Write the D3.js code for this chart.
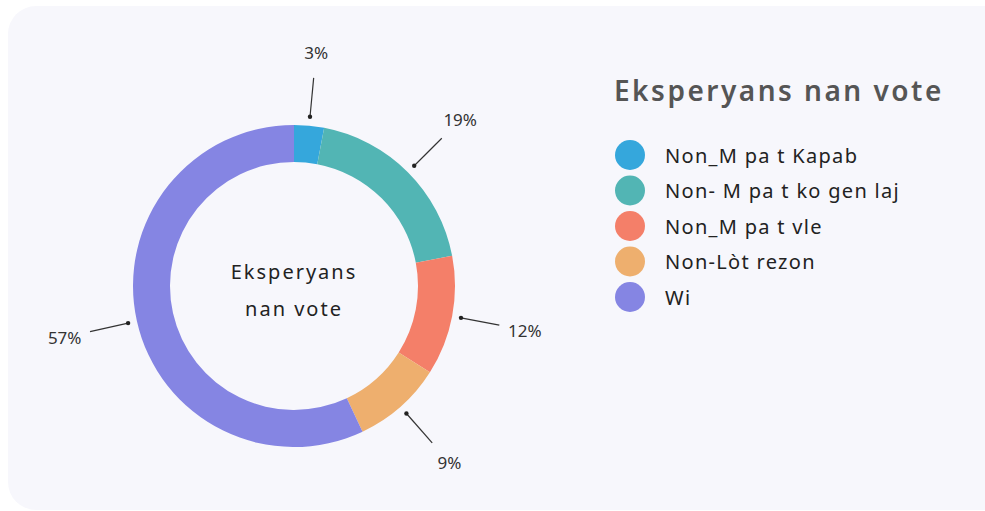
<!DOCTYPE html>
<html>
<head>
<meta charset="utf-8">
<script src="https://cdn.jsdelivr.net/npm/d3@7"></script>
<style>
  html, body { margin: 0; padding: 0; background: #fff; }
  #chart { width: 985px; height: 511px; }
  text { font-family: "Noto Sans", sans-serif; }
</style>
</head>
<body>
<div id="chart"></div>
<script>
const title = 'Eksperyans nan vote'
const centerLines = ['Eksperyans', 'nan vote']
const categories = ['Non_M pa t Kapab', 'Non- M pa t ko gen laj', 'Non_M pa t vle', 'Non-Lòt rezon', 'Wi']
const values = [3, 19, 12, 9, 57]
const colors = ['#35a7dc', '#52b5b4', '#f47f69', '#eeaf6e', '#8585e3']

const width = 985
const height = 511
const cx = 294
const cy = 286
const outerR = 161
const innerR = 124

const svg = d3.select('#chart')
  .append('svg')
  .attr('width', width)
  .attr('height', height)

// card background
svg.append('rect')
  .attr('x', 8)
  .attr('y', 6)
  .attr('width', 1020)
  .attr('height', 504)
  .attr('rx', 28)
  .attr('fill', '#f7f7fc')

const total = d3.sum(values)
const pie = d3.pie().sort(null).value(d => d)
const arcs = pie(values)
const arc = d3.arc().innerRadius(innerR).outerRadius(outerR)
const color = d3.scaleOrdinal().domain(categories).range(colors)

const g = svg.append('g').attr('transform', `translate(${cx},${cy})`)

g.selectAll('path')
  .data(arcs)
  .enter()
  .append('path')
  .attr('d', arc)
  .attr('fill', (d, i) => color(categories[i]))

// leader lines + labels
const polar = (a, r) => [Math.sin(a) * r, -Math.cos(a) * r]
const labels = g.selectAll('g.lbl')
  .data(arcs)
  .enter()
  .append('g')
  .attr('class', 'lbl')

labels.each(function(d) {
  const a = (d.startAngle + d.endAngle) / 2
  const p1 = polar(a, 170)
  const p2 = polar(a, 209)
  const p3 = polar(a, 235)
  const sel = d3.select(this)
  sel.append('line')
    .attr('x1', p1[0]).attr('y1', p1[1])
    .attr('x2', p2[0]).attr('y2', p2[1])
    .attr('stroke', '#333')
    .attr('stroke-width', 1.2)
  sel.append('circle')
    .attr('cx', p1[0]).attr('cy', p1[1])
    .attr('r', 2.2)
    .attr('fill', '#222')
  sel.append('text')
    .attr('x', p3[0]).attr('y', p3[1])
    .attr('text-anchor', 'middle')
    .attr('dominant-baseline', 'central')
    .attr('font-size', 17)
    .attr('fill', '#333')
    .text(d3.format('.0%')(d.data / total))
})

// center text
g.selectAll('text.center')
  .data(centerLines)
  .enter()
  .append('text')
  .attr('class', 'center')
  .attr('x', 0)
  .attr('y', (d, i) => -15 + i * 37)
  .attr('text-anchor', 'middle')
  .attr('dominant-baseline', 'central')
  .attr('font-size', 20)
  .attr('letter-spacing', 2)
  .attr('fill', '#222')
  .text(d => d)

// legend
svg.append('text')
  .attr('x', 614)
  .attr('y', 101)
  .attr('font-size', 28)
  .attr('font-weight', 600)
  .attr('letter-spacing', 2.5)
  .attr('fill', '#555')
  .text(title)

const legend = svg.append('g').attr('transform', 'translate(630,155)')
const item = legend.selectAll('g')
  .data(categories)
  .enter()
  .append('g')
  .attr('transform', (d, i) => `translate(0,${i * 35.5})`)

item.append('circle')
  .attr('r', 15)
  .attr('fill', d => color(d))

item.append('text')
  .attr('x', 35)
  .attr('dominant-baseline', 'central')
  .attr('font-size', 20)
  .attr('letter-spacing', 1.3)
  .attr('fill', '#222')
  .text(d => d)
</script>
</body>
</html>
